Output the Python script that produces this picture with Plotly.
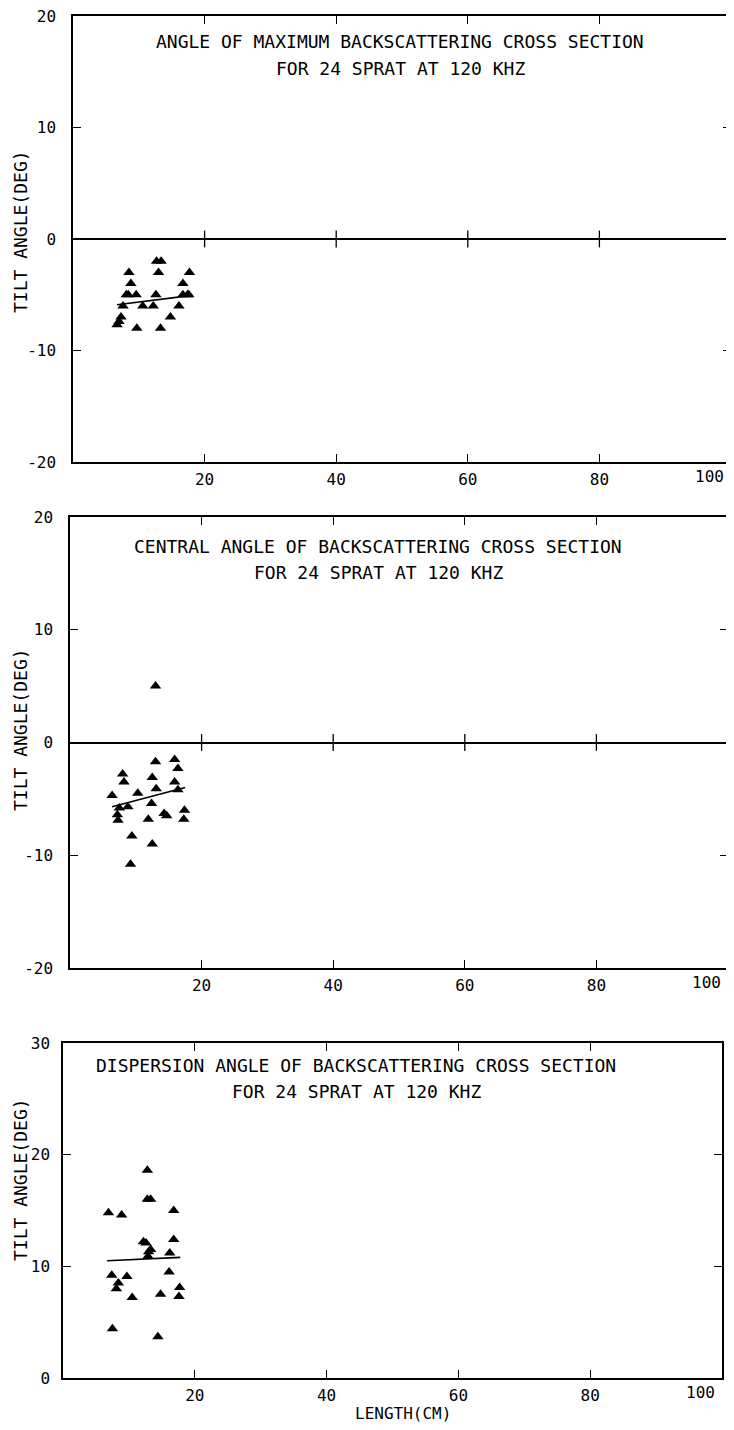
import plotly.graph_objects as go

# the page body keeps an 8px margin, so the figure is drawn 8px in and
# all positions below are written in window pixels
OFF = 8
FW, FH = 734 - OFF, 1430 - OFF

# panel 1: angle of maximum backscattering cross section
len_max = [12.7, 13.4, 8.5, 13.0, 17.7, 8.8, 16.7, 8.1, 9.6, 12.6, 16.7, 17.6,
           7.6, 10.6, 12.2, 16.1, 7.3, 14.8, 6.7, 7.0, 9.7, 13.3, 8.4, 17.4]
tilt_max = [-2.0, -2.0, -3.0, -3.0, -3.0, -4.0, -4.0, -5.0, -5.0, -5.0, -5.0, -5.0,
            -6.0, -6.0, -6.0, -6.0, -7.0, -7.0, -7.7, -7.4, -8.0, -8.0, -5.0, -5.0]
fit_max_len = [6.7, 17.5]
fit_max_tilt = [-5.9, -5.1]

# panel 2: central angle
len_cen = [13.0, 15.9, 16.4, 8.0, 8.2, 12.5, 15.9, 13.1, 16.4, 6.4, 10.3, 12.4,
           7.5, 8.8, 7.2, 7.3, 14.3, 14.7, 11.9, 17.4, 17.3, 9.4, 12.5, 9.2, 13.0]
tilt_cen = [-1.7, -1.5, -2.3, -2.8, -3.5, -3.1, -3.5, -4.1, -4.2, -4.7, -4.5, -5.4,
            -5.8, -5.7, -6.4, -6.9, -6.3, -6.5, -6.8, -6.0, -6.8, -8.3, -9.0, -10.8, 5.0]
fit_cen_len = [6.4, 17.5]
fit_cen_tilt = [-5.7, -4.0]

# panel 3: dispersion angle
len_dis = [12.8, 12.8, 13.3, 6.9, 8.9, 16.8, 12.2, 12.6, 16.8, 13.3, 12.9, 16.2,
           7.4, 9.7, 16.1, 8.4, 8.1, 17.7, 10.5, 14.8, 17.6, 7.5, 14.4, 13.0]
tilt_dis = [18.6, 16.0, 16.0, 14.8, 14.6, 15.0, 12.2, 12.1, 12.4, 11.5, 10.9, 11.2,
            9.2, 9.1, 9.5, 8.5, 8.0, 8.1, 7.2, 7.5, 7.3, 4.4, 3.7, 11.3]
fit_dis_len = [6.7, 17.8]
fit_dis_tilt = [10.5, 10.8]

titles = [
    ("ANGLE OF MAXIMUM BACKSCATTERING CROSS SECTION", "FOR 24 SPRAT AT 120 KHZ"),
    ("CENTRAL ANGLE OF BACKSCATTERING CROSS SECTION", "FOR 24 SPRAT AT 120 KHZ"),
    ("DISPERSION ANGLE OF BACKSCATTERING CROSS SECTION", "FOR 24 SPRAT AT 120 KHZ"),
]
x_ticks = [20, 40, 60, 80]
y_ticks_12 = [-20, -10, 0, 10, 20]
y_ticks_3 = [0, 10, 20, 30]

FONT = "DejaVu Sans Mono"


def fx(p):
    return (p - OFF) / FW


def fy(p):
    return 1 - (p - OFF) / FH


# pixel boxes of the three panels: left, right, top, bottom
boxes = [(73, 731, 16, 462), (70, 728, 517, 968), (63, 722, 1043, 1378)]
title_pos = [(400, 42, 68), (378, 546, 572), (356, 1065, 1091)]
ylab_pos = [232, 730, 1180]
ylab_standoff = [12, 12, 8]

data = [
    (len_max, tilt_max, fit_max_len, fit_max_tilt, [-20, 20], y_ticks_12, True),
    (len_cen, tilt_cen, fit_cen_len, fit_cen_tilt, [-20, 20], y_ticks_12, True),
    (len_dis, tilt_dis, fit_dis_len, fit_dis_tilt, [0, 30], y_ticks_3, False),
]

fig = go.Figure()
annotations = []

for i, (lx, ty, fxs, fys, yr, yt, zero) in enumerate(data):
    s = "" if i == 0 else str(i + 1)
    xa, ya = "x" + s, "y" + s
    left, right, top, bottom = boxes[i]

    fig.add_trace(go.Scatter(x=lx, y=ty, mode="markers", xaxis=xa, yaxis=ya,
                             marker=dict(symbol="triangle-up", size=10, color="black"),
                             showlegend=False))
    fig.add_trace(go.Scatter(x=fxs, y=fys, mode="lines", xaxis=xa, yaxis=ya,
                             line=dict(color="black", width=1.6), showlegend=False))
    if zero:
        # little tick crosses on the zero line
        fig.add_trace(go.Scatter(x=x_ticks, y=[0] * len(x_ticks), mode="markers",
                                 xaxis=xa, yaxis=ya, showlegend=False,
                                 marker=dict(symbol="line-ns", size=12,
                                             line=dict(color="black", width=1.3))))

    axis_common = dict(showline=True, linecolor="black", linewidth=1.5, mirror="ticks",
                       ticks="inside", ticklen=8, tickwidth=1.3, tickcolor="black",
                       showgrid=False, automargin=False, ticklabeloverflow="allow",
                       tickfont=dict(family=FONT, size=16, color="black"))
    fig.update_layout(**{
        "xaxis" + s: dict(axis_common, domain=[fx(left), fx(right)], range=[0, 100],
                          tickvals=x_ticks, zeroline=False, anchor=ya,
                          ticklabelstandoff=2),
        "yaxis" + s: dict(axis_common, domain=[fy(bottom), fy(top)], range=yr,
                          tickvals=yt, ticktext=[str(v) for v in yt], anchor=xa,
                          zeroline=zero, zerolinecolor="black", zerolinewidth=1.5,
                          ticklabelstandoff=ylab_standoff[i]),
    })

    # "100" sits at the right edge, pull it inside
    annotations.append(dict(text="100", xref=xa + " domain", yref=ya + " domain",
                            x=1, y=0, xanchor="right", yanchor="top", yshift=-3, xshift=-5,
                            showarrow=False, font=dict(family=FONT, size=16, color="black")))
    cx, t1, t2 = title_pos[i]
    for txt, yy in zip(titles[i], (t1, t2)):
        annotations.append(dict(text=txt, xref="paper", yref="paper", x=fx(cx), y=fy(yy),
                                xanchor="center", yanchor="middle", showarrow=False,
                                font=dict(family=FONT, size=18, color="black")))
    annotations.append(dict(text="TILT ANGLE(DEG)", xref="paper", yref="paper",
                            x=fx(20), y=fy(ylab_pos[i]), textangle=-90,
                            xanchor="center", yanchor="middle", showarrow=False,
                            font=dict(family=FONT, size=18, color="black")))

annotations.append(dict(text="LENGTH(CM)", xref="paper", yref="paper", x=fx(403),
                        y=fy(1413), xanchor="center", yanchor="middle", showarrow=False,
                        font=dict(family=FONT, size=16, color="black")))

fig.update_layout(width=FW, height=FH, margin=dict(l=0, r=0, t=0, b=0),
                  paper_bgcolor="white", plot_bgcolor="white",
                  annotations=annotations)

fig.write_html("out.html")
